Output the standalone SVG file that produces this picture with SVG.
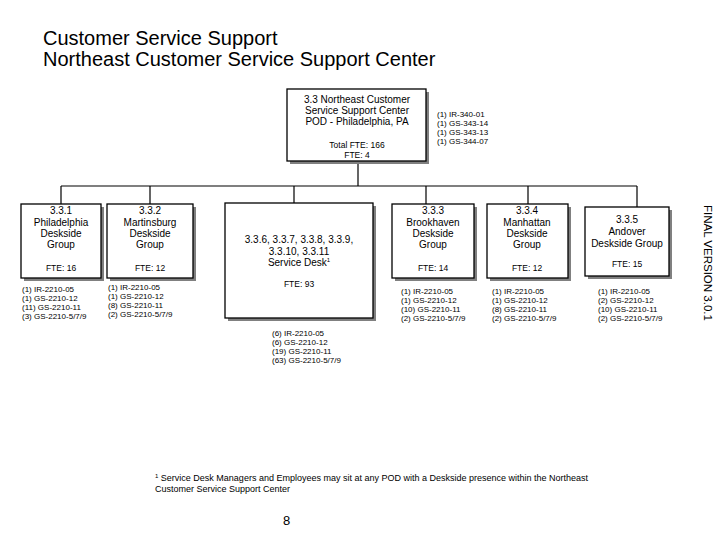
<svg xmlns="http://www.w3.org/2000/svg" width="720" height="540" viewBox="0 0 720 540">
<style>
text{font-family:"Liberation Sans",Arial,sans-serif;fill:#000}
.t{font-size:20px}
.b{font-size:10px;text-anchor:middle}
.f{font-size:8.5px;text-anchor:middle}
.c{font-size:8px}
.box{fill:#fff;stroke:#000;stroke-width:1.3}
.sh{fill:#808080}
.ln{stroke:#000;stroke-width:1.2;fill:none}
</style>
<rect width="720" height="540" fill="#fff"/>
<text class="t" x="43" y="45">Customer Service Support</text>
<text class="t" x="43" y="66">Northeast Customer Service Support Center</text>
<g id="connectors">
<path class="ln" d="M358 161V186M61 186H637M61 186V204M150 186V204M294 186V203M426 186V204M528 186V204M637 186V207"/>
</g>
<g id="n33">
<rect class="sh" x="290" y="92" width="139" height="72"/>
<rect class="box" x="287" y="89" width="139" height="72"/>
<text class="b" x="357" y="103">3.3 Northeast Customer</text>
<text class="b" x="357" y="114">Service Support Center</text>
<text class="b" x="357" y="125">POD - Philadelphia, PA</text>
<text class="f" x="357" y="148">Total FTE: 166</text>
<text class="f" x="357" y="158">FTE: 4</text>
</g>
<g id="c33">
<text class="c" x="437" y="117">(1) IR-340-01</text>
<text class="c" x="437" y="126">(1) GS-343-14</text>
<text class="c" x="437" y="135">(1) GS-343-13</text>
<text class="c" x="437" y="144">(1) GS-344-07</text>
</g>
<g id="n331">
<rect class="sh" x="24" y="207" width="80" height="74"/>
<rect class="box" x="21" y="204" width="80" height="74"/>
<text class="b" x="61" y="214">3.3.1</text>
<text class="b" x="61" y="226">Philadelphia</text>
<text class="b" x="61" y="237">Deskside</text>
<text class="b" x="61" y="248">Group</text>
<text class="f" x="61" y="271">FTE: 16</text>
<text class="c" x="22" y="292">(1) IR-2210-05</text>
<text class="c" x="22" y="301">(1) GS-2210-12</text>
<text class="c" x="22" y="310">(11) GS-2210-11</text>
<text class="c" x="22" y="319">(3) GS-2210-5/7/9</text>
</g>
<g id="n332">
<rect class="sh" x="110" y="207" width="86" height="74"/>
<rect class="box" x="107" y="204" width="86" height="74"/>
<text class="b" x="150" y="214">3.3.2</text>
<text class="b" x="150" y="226">Martinsburg</text>
<text class="b" x="150" y="237">Deskside</text>
<text class="b" x="150" y="248">Group</text>
<text class="f" x="150" y="271">FTE: 12</text>
<text class="c" x="108" y="290">(1) IR-2210-05</text>
<text class="c" x="108" y="299">(1) GS-2210-12</text>
<text class="c" x="108" y="308">(8) GS-2210-11</text>
<text class="c" x="108" y="317">(2) GS-2210-5/7/9</text>
</g>
<g id="nsd">
<rect class="sh" x="228" y="206" width="148" height="115"/>
<rect class="box" x="225" y="203" width="148" height="115"/>
<text class="b" x="299" y="243">3.3.6, 3.3.7, 3.3.8, 3.3.9,</text>
<text class="b" x="299" y="255">3.3.10, 3.3.11</text>
<text class="b" x="299" y="266">Service Desk<tspan font-size="6" dy="-4">1</tspan></text>
<text class="f" x="299" y="287">FTE: 93</text>
<text class="c" x="272" y="336">(6) IR-2210-05</text>
<text class="c" x="272" y="345">(6) GS-2210-12</text>
<text class="c" x="272" y="354">(19) GS-2210-11</text>
<text class="c" x="272" y="363">(63) GS-2210-5/7/9</text>
</g>
<g id="n333">
<rect class="sh" x="395" y="207" width="82" height="74"/>
<rect class="box" x="392" y="204" width="82" height="74"/>
<text class="b" x="433" y="214">3.3.3</text>
<text class="b" x="433" y="226">Brookhaven</text>
<text class="b" x="433" y="237">Deskside</text>
<text class="b" x="433" y="248">Group</text>
<text class="f" x="433" y="271">FTE: 14</text>
<text class="c" x="401" y="294">(1) IR-2210-05</text>
<text class="c" x="401" y="303">(1) GS-2210-12</text>
<text class="c" x="401" y="312">(10) GS-2210-11</text>
<text class="c" x="401" y="321">(2) GS-2210-5/7/9</text>
</g>
<g id="n334">
<rect class="sh" x="490" y="207" width="81" height="74"/>
<rect class="box" x="487" y="204" width="81" height="74"/>
<text class="b" x="527" y="214">3.3.4</text>
<text class="b" x="527" y="226">Manhattan</text>
<text class="b" x="527" y="237">Deskside</text>
<text class="b" x="527" y="248">Group</text>
<text class="f" x="527" y="271">FTE: 12</text>
<text class="c" x="492" y="294">(1) IR-2210-05</text>
<text class="c" x="492" y="303">(1) GS-2210-12</text>
<text class="c" x="492" y="312">(8) GS-2210-11</text>
<text class="c" x="492" y="321">(2) GS-2210-5/7/9</text>
</g>
<g id="n335">
<rect class="sh" x="588" y="210" width="84" height="69"/>
<rect class="box" x="585" y="207" width="84" height="69"/>
<text class="b" x="627" y="223">3.3.5</text>
<text class="b" x="627" y="235">Andover</text>
<text class="b" x="627" y="247">Deskside Group</text>
<text class="f" x="627" y="267">FTE: 15</text>
<text class="c" x="598" y="294">(1) IR-2210-05</text>
<text class="c" x="598" y="303">(2) GS-2210-12</text>
<text class="c" x="598" y="312">(10) GS-2210-11</text>
<text class="c" x="598" y="321">(2) GS-2210-5/7/9</text>
</g>
<text font-size="11.5" transform="translate(704,205) rotate(90)">FINAL VERSION 3.0.1</text>
<text font-size="9" x="155" y="481"><tspan font-size="6" dy="-3">1</tspan><tspan dy="3">  Service Desk Managers and Employees may sit at any POD with a Deskside presence within the Northeast</tspan></text>
<text font-size="9" x="155" y="492">Customer Service Support Center</text>
<text font-size="13" x="283" y="525">8</text>
</svg>
